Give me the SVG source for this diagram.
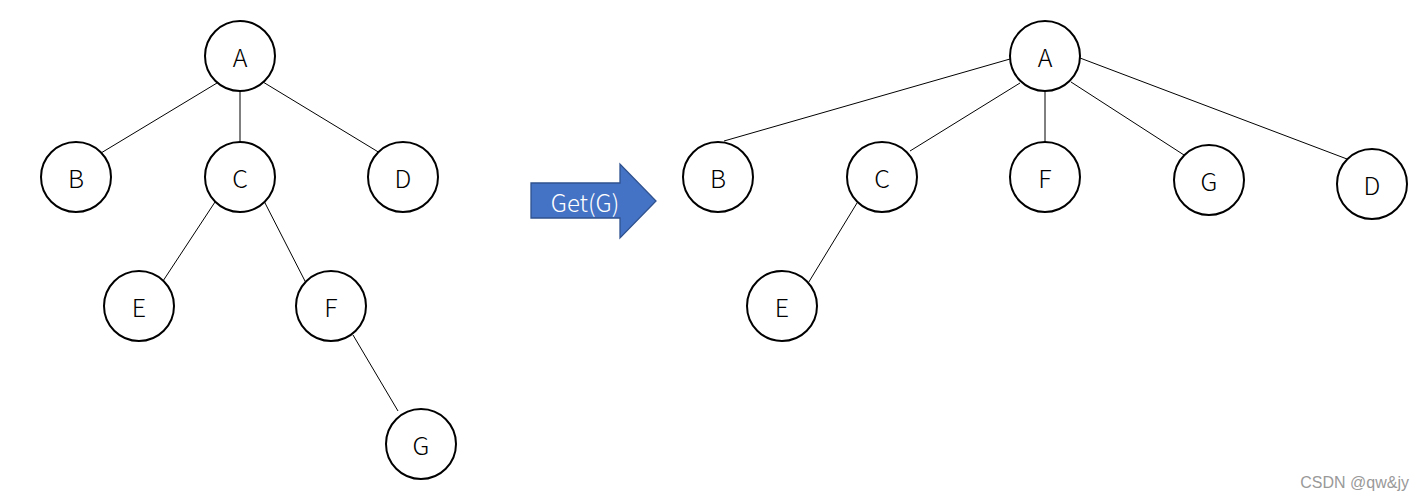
<svg xmlns="http://www.w3.org/2000/svg" width="1424" height="501" viewBox="0 0 1424 501">
<style>
.n circle{fill:#fff;stroke:#000;stroke-width:2}
.n text{font-family:"Noto Sans CJK SC","Noto Sans","DejaVu Sans",sans-serif;font-weight:300;font-size:25px;fill:#000;text-anchor:middle;dominant-baseline:central}
.e line{stroke:#000;stroke-width:1}
</style>
<rect width="1424" height="501" fill="#fff"/>
<g id="connectors" class="e">
<line x1="217" y1="83" x2="101" y2="153"/>
<line x1="240" y1="91" x2="240" y2="142"/>
<line x1="263" y1="82" x2="380" y2="153"/>
<line x1="215" y1="202" x2="163" y2="281"/>
<line x1="264" y1="201" x2="306" y2="283"/>
<line x1="353" y1="335" x2="398" y2="411"/>
<line x1="1010" y1="59" x2="724" y2="141"/>
<line x1="1020" y1="83" x2="910" y2="151"/>
<line x1="1045" y1="91" x2="1045" y2="142"/>
<line x1="1071" y1="82" x2="1184" y2="155"/>
<line x1="1080" y1="58" x2="1347" y2="159"/>
<line x1="857" y1="203" x2="807" y2="285"/>
</g>
<g id="L_A" class="n"><circle cx="240" cy="56" r="35"/><text x="240" y="56">A</text></g>
<g id="L_B" class="n"><circle cx="76" cy="177" r="35"/><text x="76" y="177">B</text></g>
<g id="L_C" class="n"><circle cx="240" cy="177" r="35"/><text x="240" y="177">C</text></g>
<g id="L_D" class="n"><circle cx="403" cy="177" r="35"/><text x="403" y="177">D</text></g>
<g id="L_E" class="n"><circle cx="139" cy="306" r="35"/><text x="139" y="306">E</text></g>
<g id="L_F" class="n"><circle cx="331" cy="306" r="35"/><text x="331" y="306">F</text></g>
<g id="L_G" class="n"><circle cx="421" cy="444" r="35"/><text x="421" y="444">G</text></g>
<g id="arrow">
<polygon points="531,183 620,183 620,164 656,201 620,238 620,218 531,218" fill="#4472C4" stroke="#2F528F" stroke-width="1.3"/>
<text x="585" y="201" font-family="Noto Sans CJK SC,Noto Sans,DejaVu Sans,sans-serif" font-weight="300" font-size="24" fill="#fff" text-anchor="middle" dominant-baseline="central">Get(G)</text>
</g>
<g id="R_A" class="n"><circle cx="1045" cy="56" r="35"/><text x="1045" y="56">A</text></g>
<g id="R_B" class="n"><circle cx="718" cy="177" r="35"/><text x="718" y="177">B</text></g>
<g id="R_C" class="n"><circle cx="882" cy="177" r="35"/><text x="882" y="177">C</text></g>
<g id="R_F" class="n"><circle cx="1045" cy="177" r="35"/><text x="1045" y="177">F</text></g>
<g id="R_G" class="n"><circle cx="1209" cy="180" r="35"/><text x="1209" y="180">G</text></g>
<g id="R_D" class="n"><circle cx="1372" cy="184" r="35"/><text x="1372" y="184">D</text></g>
<g id="R_E" class="n"><circle cx="782" cy="306" r="35"/><text x="782" y="306">E</text></g>
<text x="1409" y="488" font-family="Liberation Sans,Arial,sans-serif" font-size="16" fill="#999" text-anchor="end">CSDN @qw&amp;jy</text>
</svg>
